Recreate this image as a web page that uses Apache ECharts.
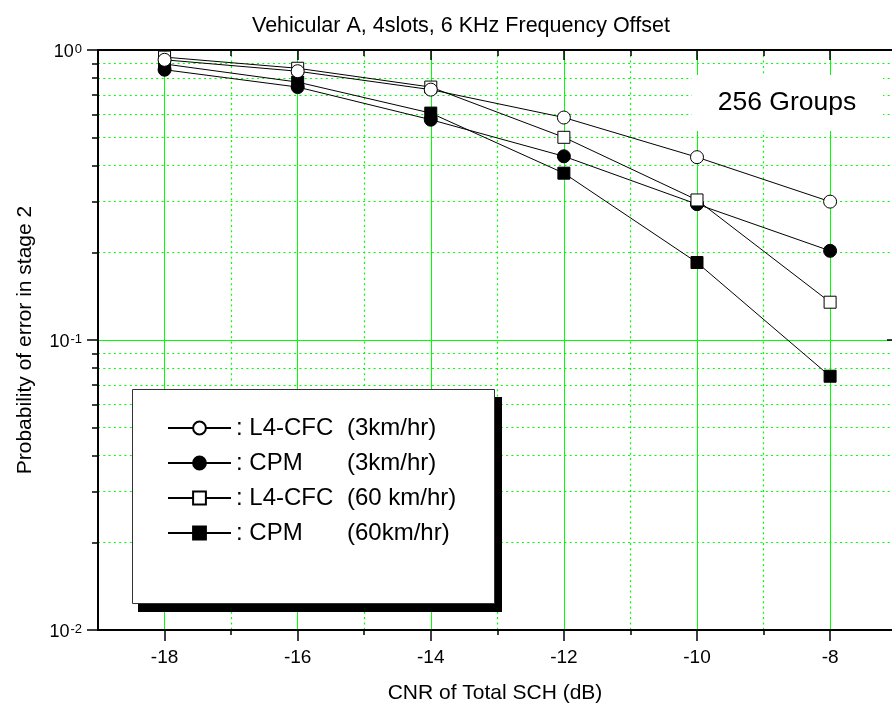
<!DOCTYPE html>
<html>
<head>
<meta charset="utf-8">
<script src="https://cdn.jsdelivr.net/npm/echarts@6/dist/echarts.min.js"></script>
<style>
  html, body { margin: 0; padding: 0; background: #fff; }
  #chart { width: 892px; height: 704px; }
</style>
</head>
<body>
<div id="chart"></div>
<script>
// x positions (CNR, dB)
var cnr = [-18, -16, -14, -12, -10, -8];
// probability of error in stage 2
var l4cfc3 = [0.925, 0.845, 0.73, 0.585, 0.427, 0.30];
var cpm3 = [0.855, 0.745, 0.575, 0.43, 0.294, 0.203];
var l4cfc60 = [0.945, 0.865, 0.745, 0.50, 0.304, 0.135];
var cpm60 = [0.895, 0.775, 0.606, 0.376, 0.185, 0.075];

// ticks
var xMajor = [-18, -16, -14, -12, -10, -8];
var xMinor = [-17, -15, -13, -11, -9];
var yMajor = [0.01, 0.1, 1];
var yMinor = [0.02, 0.03, 0.04, 0.05, 0.06, 0.07, 0.08, 0.09, 0.2, 0.3, 0.4, 0.5, 0.6, 0.7, 0.8, 0.9];

var FONT = "'Liberation Sans', Arial, sans-serif";
var GREEN = "#00ff00";

function pairs(ys) {
  return cnr.map(function (x, i) { return [x, ys[i]]; });
}

// the frame runs past the right edge of the picture, so the x range
// ends a little before -7
function xAxisDef(pos, ticks, len, inside, opts) {
  return Object.assign({
    type: "value",
    position: pos,
    min: -19,
    max: -7.07,
    axisLine: { show: true, onZero: false, lineStyle: { color: "#000", width: 2 } },
    axisTick: { show: true, customValues: ticks, length: len, inside: inside, lineStyle: { color: "#000", width: 1.5 } },
    axisLabel: { show: false },
    splitLine: { show: false },
  }, opts || {});
}

function yAxisDef(pos, ticks, len, inside, opts) {
  return Object.assign({
    type: "log",
    logBase: 10,
    position: pos,
    min: 0.01,
    max: 1,
    axisLine: { show: true, onZero: false, lineStyle: { color: "#000", width: 2 } },
    axisTick: { show: true, customValues: ticks, length: len, inside: inside, lineStyle: { color: "#000", width: 1.5 } },
    axisLabel: { show: false },
    splitLine: { show: false },
  }, opts || {});
}

function supLabel(v) {
  var e = Math.round(Math.log(v) / Math.LN10);
  return "{b|10}{s|" + e + "}";
}

var openItem = { color: "#fff", borderColor: "#000", borderWidth: 1 };
var fillItem = { color: "#000", borderColor: "#000", borderWidth: 1 };

var myChart = echarts.init(document.getElementById("chart"));
myChart.setOption({
  animation: false,
  backgroundColor: "#fff",
  textStyle: { fontFamily: FONT },
  title: {
    text: "Vehicular A, 4slots, 6 KHz Frequency Offset",
    left: 252,
    top: 15,
    padding: 0,
    textStyle: { fontSize: 21.5, fontWeight: "normal", color: "#000", fontFamily: FONT },
  },
  grid: { left: 98, top: 50, right: 0, bottom: 74, outerBoundsMode: "none", containLabel: false },
  xAxis: [
    xAxisDef("bottom", xMajor, 11, false, {
      name: "CNR of Total SCH (dB)",
      nameLocation: "middle",
      nameGap: 53,
      nameTextStyle: { fontSize: 21, color: "#000", fontFamily: FONT },
      axisLabel: { show: true, customValues: xMajor, margin: 18, fontSize: 19, color: "#000", fontFamily: FONT },
      splitLine: { show: true, lineStyle: { color: GREEN, width: 1 } },
    }),
    xAxisDef("bottom", xMinor, 5, false, {
      axisLine: { show: false, onZero: false },
      splitLine: { show: true, lineStyle: { color: GREEN, width: 1.2, type: [2, 3.3] } },
    }),
    xAxisDef("top", xMajor, 10, true),
    xAxisDef("top", xMinor, 6, true, { axisLine: { show: false, onZero: false } }),
  ],
  yAxis: [
    yAxisDef("left", yMajor, 11, false, {
      name: "Probability of error in stage 2",
      nameLocation: "middle",
      nameGap: 62,
      nameRotate: 90,
      nameTextStyle: { fontSize: 21, color: "#000", fontFamily: FONT },
      axisLabel: {
        show: true,
        customValues: yMajor,
        margin: 16,
        padding: [4, 0, 0, 0],
        formatter: supLabel,
        rich: {
          b: { fontSize: 18, lineHeight: 18, color: "#000", fontFamily: FONT },
          s: { fontSize: 13, lineHeight: 8, color: "#000", fontFamily: FONT, verticalAlign: "top", padding: [0, 0, 0, 1] },
        },
      },
      splitLine: { show: true, lineStyle: { color: GREEN, width: 1 } },
    }),
    yAxisDef("left", yMinor, 6, false, {
      axisLine: { show: false, onZero: false },
      splitLine: { show: true, lineStyle: { color: GREEN, width: 1.2, type: [2, 3.3] } },
    }),
    yAxisDef("right", yMajor, 5, true, { axisLine: { show: false, onZero: false } }),
  ],
  legend: {
    orient: "vertical",
    left: 167,
    top: 416,
    padding: 0,
    itemWidth: 63,
    itemHeight: 16,
    itemGap: 11,
    selectedMode: false,
    z: 10,
    data: ["L4-CFC (3km/hr)", "CPM (3km/hr)", "L4-CFC (60 km/hr)", "CPM (60km/hr)"],
    formatter: function (name) {
      var k = name.indexOf("(");
      return "{a|: " + name.slice(0, k).trim() + "}{b|" + name.slice(k) + "}";
    },
    textStyle: {
      color: "#000",
      fontSize: 24,
      fontFamily: FONT,
      rich: {
        a: { width: 111, fontSize: 24, fontFamily: FONT, color: "#000" },
        b: { fontSize: 24, fontFamily: FONT, color: "#000" },
      },
    },
  },
  graphic: [
    { type: "rect", z: 8, shape: { x: 138, y: 397, width: 364, height: 215 }, style: { fill: "#000" } },
    { type: "rect", z: 9, shape: { x: 132.5, y: 389.5, width: 362, height: 214 }, style: { fill: "#fff", stroke: "#333", lineWidth: 1 } },
    { type: "rect", z: 9, shape: { x: 692, y: 75, width: 191, height: 56 }, style: { fill: "#fff" } },
    {
      type: "text", z: 10, x: 787, y: 103,
      style: { text: "256 Groups", fontSize: 26.5, fontFamily: FONT, fill: "#000", align: "center", verticalAlign: "middle" },
    },
  ],
  series: [
    {
      name: "L4-CFC (3km/hr)", type: "line", data: pairs(l4cfc3),
      symbol: "circle", symbolSize: 13, z: 5,
      lineStyle: { color: "#000", width: 1 }, itemStyle: openItem,
    },
    {
      name: "CPM (3km/hr)", type: "line", data: pairs(cpm3),
      symbol: "circle", symbolSize: 13, z: 4,
      lineStyle: { color: "#000", width: 1 }, itemStyle: fillItem,
    },
    {
      name: "L4-CFC (60 km/hr)", type: "line", data: pairs(l4cfc60),
      symbol: "rect", symbolSize: 12, z: 4,
      lineStyle: { color: "#000", width: 1 }, itemStyle: openItem,
    },
    {
      name: "CPM (60km/hr)", type: "line", data: pairs(cpm60),
      symbol: "rect", symbolSize: 12, z: 4,
      lineStyle: { color: "#000", width: 1 }, itemStyle: fillItem,
    },
  ],
});
</script>
</body>
</html>
